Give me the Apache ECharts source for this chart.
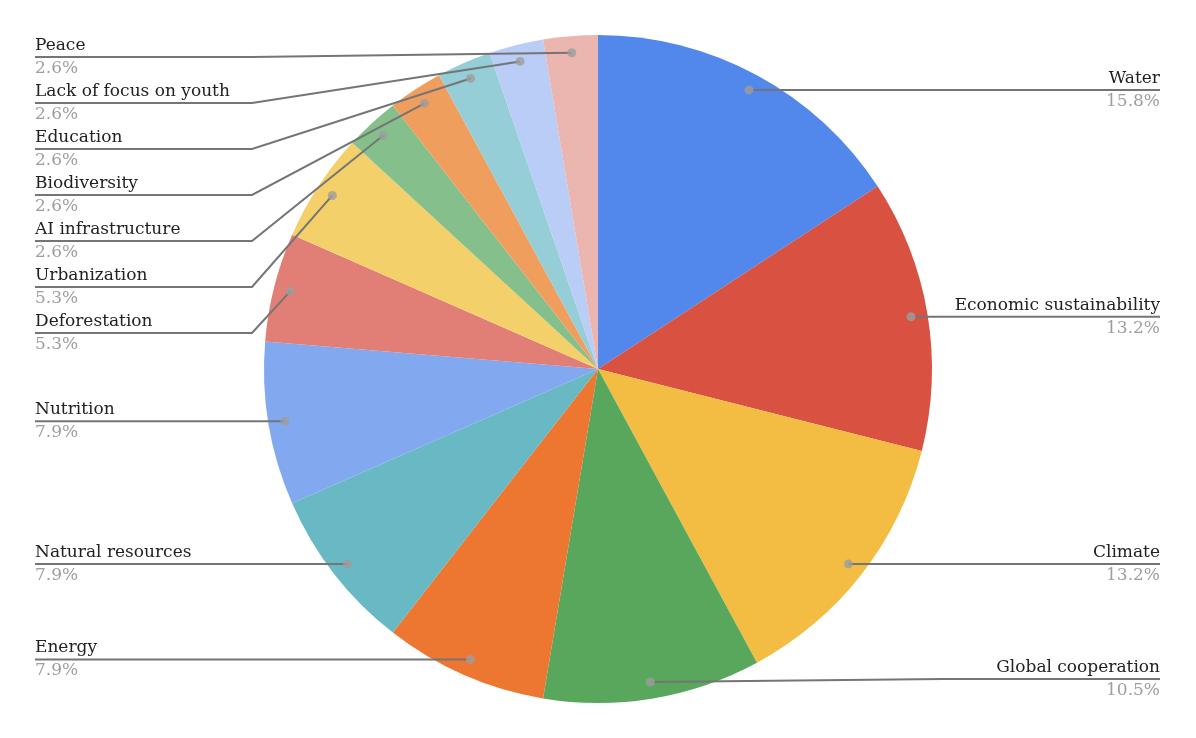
<!DOCTYPE html>
<html>
<head>
<meta charset="utf-8">
<script src="https://cdn.jsdelivr.net/npm/echarts@6/dist/echarts.min.js"></script>
<style>
html,body{margin:0;padding:0;background:#ffffff;}
#chart{width:1196px;height:738px;}
</style>
</head>
<body>
<div id="chart"></div>
<script>
// ---- data ----
const categories = ['Water', 'Economic sustainability', 'Climate', 'Global cooperation', 'Energy',
  'Natural resources', 'Nutrition', 'Deforestation', 'Urbanization', 'AI infrastructure',
  'Biodiversity', 'Education', 'Lack of focus on youth', 'Peace'];
const values = [6, 5, 5, 4, 3, 3, 3, 2, 2, 1, 1, 1, 1, 1];
const sliceColors = ['#5288ec', '#d95140', '#f2bd42', '#58a75c', '#ed7631', '#68b9c3', '#82a9f0',
  '#e17f76', '#f4d06b', '#85bf8b', '#f09e5e', '#95ced6', '#b9cdf6', '#ebb6af'];

// ---- geometry / layout ----
const W = 1196, H = 738;
const CX = W * 0.5, CY = 369, R = 334;
const DOT_R = 0.95;
const LEFT_X = 35, RIGHT_X = 1160, ELBOW = 217, GAP = 46, MIN_Y = 57, MAX_Y = 679;

const total = values.reduce((a, b) => a + b, 0);
let cum = 0;
const mids = values.map(v => { const m = cum + v / 2; cum += v; return m; });
const dots = mids.map(m => {
  const a = m / total * 2 * Math.PI;
  return [CX + R * DOT_R * Math.sin(a), CY - R * DOT_R * Math.cos(a)];
});
const labelY = new Array(values.length);
['left', 'right'].forEach(side => {
  const idx = dots.map((d, i) => i)
    .filter(i => side === 'left' ? dots[i][0] < CX : dots[i][0] >= CX)
    .sort((a, b) => dots[a][1] - dots[b][1]);
  let prev = -Infinity;
  idx.forEach(i => { const y = Math.max(dots[i][1], prev + GAP, MIN_Y); labelY[i] = y; prev = y; });
  let next = Infinity;
  idx.slice().reverse().forEach(i => { const y = Math.min(labelY[i], next - GAP, MAX_Y); labelY[i] = y; next = y; });
});

const chart = echarts.init(document.getElementById('chart'), null, {renderer: 'canvas'});
const FONT = '"DejaVu Serif", "Liberation Serif", serif';
const pieData = categories.map((c, i) => ({name: c, value: values[i], itemStyle: {color: sliceColors[i]}}));

chart.setOption({
  backgroundColor: '#ffffff',
  animation: false,
  polar: {center: ['50%', CY], radius: R},
  angleAxis: {type: 'value', min: 0, max: total, startAngle: 90, clockwise: true, show: false},
  radiusAxis: {type: 'value', min: 0, max: 1, show: false},
  series: [
    {
      type: 'pie',
      z: 1,
      center: ['50%', CY],
      radius: R,
      startAngle: 90,
      clockwise: true,
      data: pieData,
      itemStyle: {borderWidth: 0},
      emphasis: {disabled: true},
      label: {show: false},
      labelLine: {show: false}
    },
    {
      type: 'pie',
      z: 3,
      silent: true,
      center: ['50%', CY],
      radius: R,
      startAngle: 90,
      clockwise: true,
      avoidLabelOverlap: false,
      percentPrecision: 1,
      data: categories.map((c, i) => ({name: c, value: values[i]})),
      itemStyle: {color: 'rgba(0,0,0,0)', borderWidth: 0},
      emphasis: {disabled: true},
      label: {
        show: true,
        position: 'outside',
        formatter: '{n|{b}}\n{p|{d}%}',
        rich: {
          n: {fontFamily: FONT, fontSize: 17, color: '#222222', lineHeight: 23},
          p: {fontFamily: FONT, fontSize: 17, color: '#9e9e9e', lineHeight: 23}
        }
      },
      labelLine: {show: true, lineStyle: {color: '#757575', width: 2}},
      labelLayout: function (p) {
        const i = p.dataIndex;
        const d = dots[i];
        const left = d[0] < CX;
        const y = labelY[i];
        const edge = left ? LEFT_X : RIGHT_X;
        const ex = left ? Math.min(LEFT_X + ELBOW, d[0]) : Math.max(RIGHT_X - ELBOW, d[0]);
        return {
          x: edge, y: y,
          align: left ? 'left' : 'right',
          verticalAlign: 'middle',
          labelLinePoints: [[d[0], d[1]], [ex, y], [edge, y]]
        };
      }
    },
    {
      type: 'scatter',
      coordinateSystem: 'polar',
      silent: true,
      z: 10,
      symbol: 'circle',
      symbolSize: 9,
      itemStyle: {color: '#9e9e9e'},
      data: mids.map(m => [DOT_R, m])
    }
  ]
});
</script>
</body>
</html>
